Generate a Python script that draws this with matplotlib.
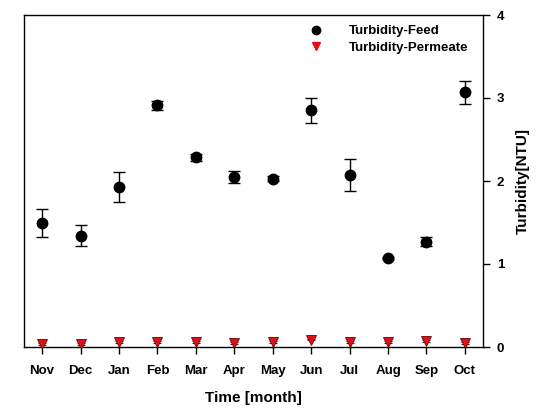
import matplotlib
matplotlib.use("Agg")
import matplotlib.pyplot as plt
from matplotlib.lines import Line2D

months = ["Nov", "Dec", "Jan", "Feb", "Mar", "Apr", "May", "Jun", "Jul", "Aug", "Sep", "Oct"]
feed = [1.49, 1.34, 1.93, 2.91, 2.285, 2.045, 2.03, 2.85, 2.07, 1.076, 1.27, 3.07]
feed_err = [0.17, 0.125, 0.18, 0.05, 0.04, 0.075, 0.025, 0.155, 0.19, 0.01, 0.05, 0.14]
perm = [0.04, 0.04, 0.06, 0.06, 0.06, 0.05, 0.06, 0.09, 0.06, 0.06, 0.07, 0.05]
perm_err = [0.01, 0.01, 0.01, 0.01, 0.01, 0.01, 0.01, 0.01, 0.01, 0.01, 0.01, 0.01]
yticks = [0, 1, 2, 3, 4]

plt.rcParams['font.family'] = ['Liberation Sans', 'DejaVu Sans']
fig = plt.figure(figsize=(5.45, 4.19), dpi=100)
ax = fig.add_axes([24/545, 1-347/419, (483-24)/545, (347-15)/419])

x = list(range(len(months)))
red = '#e0101a'
edge = '#6a0000'
ax.errorbar(x, feed, yerr=feed_err, fmt='o', color='black', ms=7.5,
            elinewidth=1.0, capsize=4, capthick=1.0, zorder=3)
ax.errorbar(x, perm, yerr=perm_err, fmt='v', mfc=red, mec=edge, mew=0.6,
            ecolor='black', ms=6.5, elinewidth=1.0, capsize=3, capthick=1.0, zorder=4)

ax.set_xlim(-0.47, 11.47)
ax.set_ylim(0, 4)
ax.set_xticks(x)
ax.set_xticklabels(months, fontsize=9.5, fontweight='bold')
ax.set_yticks(yticks)
ax.set_yticklabels([str(t) for t in yticks], fontsize=9.5, fontweight='bold')
ax.yaxis.tick_right()
ax.yaxis.set_label_position('right')
ax.tick_params(axis='x', direction='out', length=5, width=1, pad=8)
ax.tick_params(axis='y', direction='out', length=5, width=1, pad=5, left=False, right=True)
for s in ax.spines.values():
    s.set_linewidth(1.0)

ax.set_xlabel('Time [month]', fontsize=11, fontweight='bold', labelpad=10)
ax.set_ylabel('Turbidity[NTU]', fontsize=11, fontweight='bold', labelpad=8)

handles = [
    Line2D([], [], linestyle='none', marker='o', color='black', ms=6),
    Line2D([], [], linestyle='none', marker='v', mfc=red, mec=red, ms=5.5),
]
labels = ['Turbidity-Feed', 'Turbidity-Permeate']
ax.legend(handles, labels, loc='upper left', bbox_to_anchor=(0.595, 0.985), frameon=False,
          prop={'weight': 'bold', 'size': 9.5}, handletextpad=1.5,
          labelspacing=0.3, borderaxespad=0.0)

fig.savefig('out.png', dpi=100)
